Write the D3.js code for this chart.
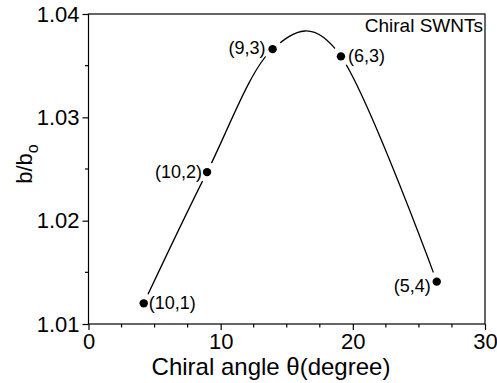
<!DOCTYPE html>
<html>
<head>
<meta charset="utf-8">
<script src="https://cdn.jsdelivr.net/npm/d3@7"></script>
<style>
  body { margin: 0; background: #fff; }
  text { font-family: "Liberation Sans", Arial, sans-serif; fill: #000; }
</style>
</head>
<body>
<svg></svg>
<script>
// data
const tubes = ["(10,1)", "(10,2)", "(9,3)", "(6,3)", "(5,4)"];
const angles = [4.18, 8.97, 13.93, 19.1, 26.35];
const ratio = [1.012, 1.0247, 1.0366, 1.0359, 1.0141];
const xTicks = [0, 10, 20, 30];
const yTicks = [1.01, 1.02, 1.03, 1.04];

const svgSize = { width: 497, height: 383 };
const margin = { top: 14, right: 12, bottom: 59, left: 88.5 };
const width = svgSize.width - margin.left - margin.right;
const height = svgSize.height - margin.top - margin.bottom;

const svg = d3.select("svg")
  .attr("width", svgSize.width)
  .attr("height", svgSize.height);

const chart = svg.append("g")
  .attr("transform", `translate(${margin.left},${margin.top})`);

const x = d3.scaleLinear().domain([0, 30]).range([0, width]);
const y = d3.scaleLinear().domain([1.01, 1.04]).range([height, 0]);

// 框線
chart.append("rect")
  .attr("width", width).attr("height", height)
  .attr("fill", "none").attr("stroke", "#000").attr("stroke-width", 1.2);

// 刻度 (major + minor, outward)
const xMinor = d3.range(0, 30.01, 2.5).filter(v => v % 10 !== 0);
const yMinor = d3.range(1.01, 1.0401, 0.005).filter(v => Math.abs(Math.round(v * 100) - v * 100) > 1e-6);

const xAxis = chart.append("g").attr("transform", `translate(0,${height})`);
xAxis.call(d3.axisBottom(x).tickValues(xTicks).tickSize(6).tickFormat(d3.format("d")));
xAxis.selectAll(".minor").data(xMinor).enter().append("line")
  .attr("x1", d => x(d)).attr("x2", d => x(d)).attr("y1", 0).attr("y2", 3.5)
  .attr("stroke", "#000").attr("stroke-width", 1.2);

const yAxis = chart.append("g");
yAxis.call(d3.axisLeft(y).tickValues(yTicks).tickSize(6).tickFormat(d3.format(".2f")));
yAxis.selectAll(".minor").data(yMinor).enter().append("line")
  .attr("x1", 0).attr("x2", -3.5).attr("y1", d => y(d)).attr("y2", d => y(d))
  .attr("stroke", "#000").attr("stroke-width", 1.2);

[xAxis, yAxis].forEach(a => {
  a.select(".domain").remove();
  a.selectAll(".tick line").attr("stroke-width", 1.2);
  a.selectAll("text").style("font-size", "22px").style("font-family", "Liberation Sans, Arial, sans-serif");
});
xAxis.selectAll(".tick text").attr("y", 9);
yAxis.selectAll(".tick text").attr("x", -9);

// 曲線 (spline through the symbols)
const pts = angles.map((a, i) => [a, ratio[i]]);
const line = d3.line().x(d => x(d[0])).y(d => y(d[1])).curve(d3.curveCardinal.tension(0));
chart.append("path").attr("d", line(pts))
  .attr("fill", "none").attr("stroke", "#000").attr("stroke-width", 1.3);

// gap around symbols
chart.selectAll(".gap").data(pts).enter().append("circle")
  .attr("cx", d => x(d[0])).attr("cy", d => y(d[1])).attr("r", 10).attr("fill", "#fff");
chart.selectAll(".dot").data(pts).enter().append("circle")
  .attr("cx", d => x(d[0])).attr("cy", d => y(d[1])).attr("r", 4.2).attr("fill", "#000");

// 點標籤
const labelPos = [
  { dx: 5, dy: 5.5, anchor: "start" },
  { dx: -5, dy: 6, anchor: "end" },
  { dx: -7, dy: 5, anchor: "end" },
  { dx: 7, dy: 5.5, anchor: "start" },
  { dx: -6, dy: 10, anchor: "end" }
];
chart.selectAll(".lab").data(pts).enter().append("text")
  .attr("x", (d, i) => x(d[0]) + labelPos[i].dx)
  .attr("y", (d, i) => y(d[1]) + labelPos[i].dy)
  .attr("text-anchor", (d, i) => labelPos[i].anchor)
  .style("font-size", "18px")
  .text((d, i) => tubes[i]);

chart.append("text")
  .attr("x", width - 2).attr("y", 17.5)
  .attr("text-anchor", "end")
  .style("font-size", "19px")
  .text("Chiral SWNTs");

// 軸標題
svg.append("text")
  .attr("x", 271).attr("y", 375)
  .attr("text-anchor", "middle")
  .style("font-size", "24px")
  .text("Chiral angle θ(degree)");

const yl = svg.append("text")
  .attr("transform", "translate(32,164) rotate(-90)")
  .attr("text-anchor", "middle")
  .style("font-size", "22px");
yl.append("tspan").text("b/b");
yl.append("tspan").attr("dy", 6).style("font-size", "16px").text("o");
</script>
</body>
</html>
